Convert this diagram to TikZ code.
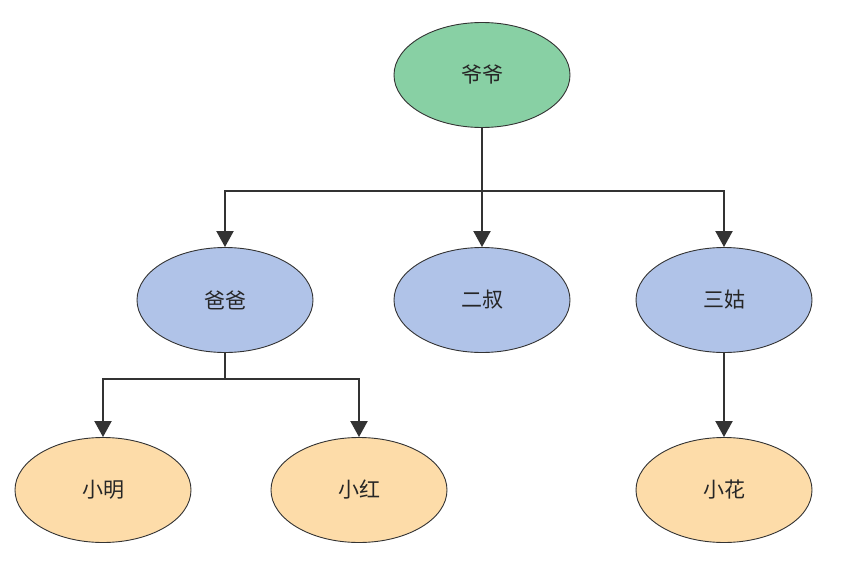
\documentclass[tikz,border=0pt]{standalone}
\usepackage{fontspec}
\newfontfamily\cjk{Noto Sans CJK SC}
\usetikzlibrary{shapes.geometric,arrows.meta}
\definecolor{rootfill}{HTML}{88D0A4}
\definecolor{midfill}{HTML}{B0C3E8}
\definecolor{leaffill}{HTML}{FDDCA9}
\definecolor{edge}{HTML}{333333}
\tikzset{
  person/.style={ellipse, draw=edge, line width=0.9pt, minimum width=176pt,
    minimum height=105pt, inner sep=0pt, font=\cjk\fontsize{21}{21}\selectfont,
    text=black!85},
  link/.style={draw=edge, line width=2pt,
    -{Triangle[length=16pt,width=17pt]}},
}
\begin{document}
\begin{tikzpicture}[x=1pt,y=-1pt]
\useasboundingbox[fill=white] (0,0) rectangle (856,567);
\node[person, fill=rootfill] (yeye) at (482,75) {爷爷};
\node[person, fill=midfill] (baba) at (225,300) {爸爸};
\node[person, fill=midfill] (ershu) at (482,300) {二叔};
\node[person, fill=midfill] (sangu) at (724,300) {三姑};
\node[person, fill=leaffill] (xiaoming) at (103,490) {小明};
\node[person, fill=leaffill] (xiaohong) at (359,490) {小红};
\node[person, fill=leaffill] (xiaohua) at (724,490) {小花};
% branches below the grandfather
\coordinate (j1) at (482,191);
\coordinate (j2) at (225,379);
\draw[link] (yeye.south) -- (j1) -| (baba.north);
\draw[link] (yeye.south) -- (ershu.north);
\draw[link] (yeye.south) -- (j1) -| (sangu.north);
% children
\draw[link] (baba.south) -- (j2) -| (xiaoming.north);
\draw[link] (baba.south) -- (j2) -| (xiaohong.north);
\draw[link] (sangu.south) -- (xiaohua.north);
\end{tikzpicture}
\end{document}
